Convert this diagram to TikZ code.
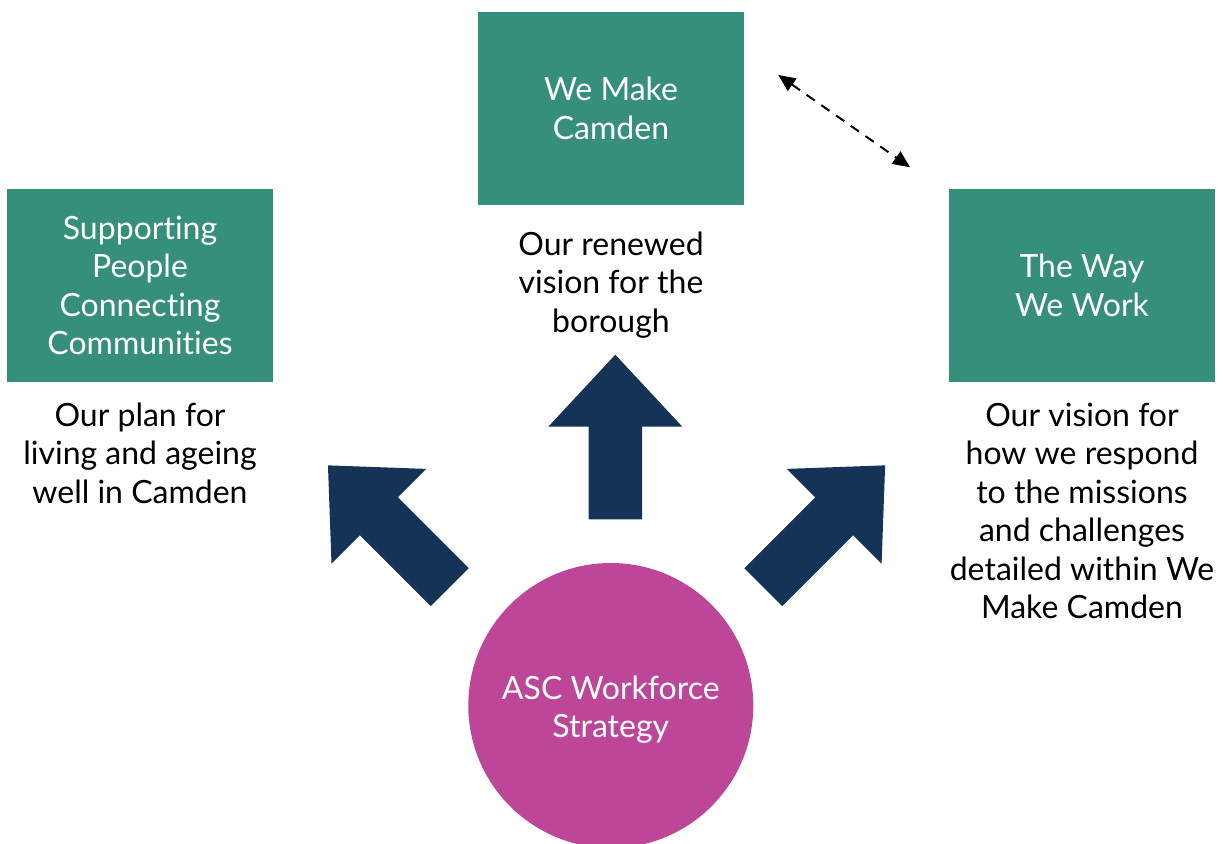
\documentclass[tikz,border=0pt]{standalone}
\usepackage{fontspec}
\setmainfont{Lato}[Ligatures={NoCommon,NoRare}]
\usepackage{xcolor}
\usetikzlibrary{arrows.meta,positioning}

\definecolor{camteal}{HTML}{368F7A}
\definecolor{camnavy}{HTML}{143356}
\definecolor{campink}{HTML}{BE4698}

\begin{document}
\begin{tikzpicture}[x=0.5pt,y=-0.5pt,font=\fontsize{16}{19.25}\selectfont]
\tikzset{panel/.style={rectangle,fill=camteal,text=white,minimum width=133pt,minimum height=96.5pt,align=center,inner sep=0pt},
caption/.style={align=center,inner sep=0pt,text=black},
hub/.style={circle,fill=campink,text=white,minimum size=142.5pt,align=center,inner sep=0pt},
pics/.cd,
blockarrow/.style={code={%
\fill[camnavy] (-26.8,0) -- (-26.8,-#1) -- (-67,-#1) -- (0,{-#1-72}) -- (67,-#1) -- (26.8,-#1) -- (26.8,0) -- cycle;
}}}
\clip (0,0) rectangle (1223,844);

\node[panel] (wmc) at (611,108.5) {We Make\\Camden};
\node[caption,below=13pt of wmc] (wmctext) {Our renewed\\vision for the\\borough};

\node[panel] (spcc) at (140,285.5) {Supporting\\People\\Connecting\\Communities};
\node[caption,below=10pt of spcc] (spcctext) {Our plan for\\living and ageing\\well in Camden};

\node[panel] (wayw) at (1082,285.5) {The Way\\We Work};
\node[caption,below=10pt of wayw] (waywtext) {Our vision for\\how we respond\\to the missions\\and challenges\\detailed within We\\Make Camden};

\node[hub] (asc) at (610.8,705.5) {};
\node[text=white,align=center] (asclabel) at ([yshift=-2pt]asc.center) {ASC Workforce\\Strategy};

\pic at (615.3,519.3) {blockarrow=92.6};
\pic[rotate=45] at (449.8,587.2) {blockarrow=100.3};
\pic[rotate=-45] at (763.3,587.2) {blockarrow=100.3};

\coordinate (d1) at (778.3,75);
\coordinate (d2) at (910,167.3);
\draw[line width=1pt,dash pattern=on 5pt off 4pt,{Triangle[length=8.5pt,width=7.5pt]}-{Triangle[length=8.5pt,width=7.5pt]}] (d1) -- (d2);
\end{tikzpicture}
\end{document}
